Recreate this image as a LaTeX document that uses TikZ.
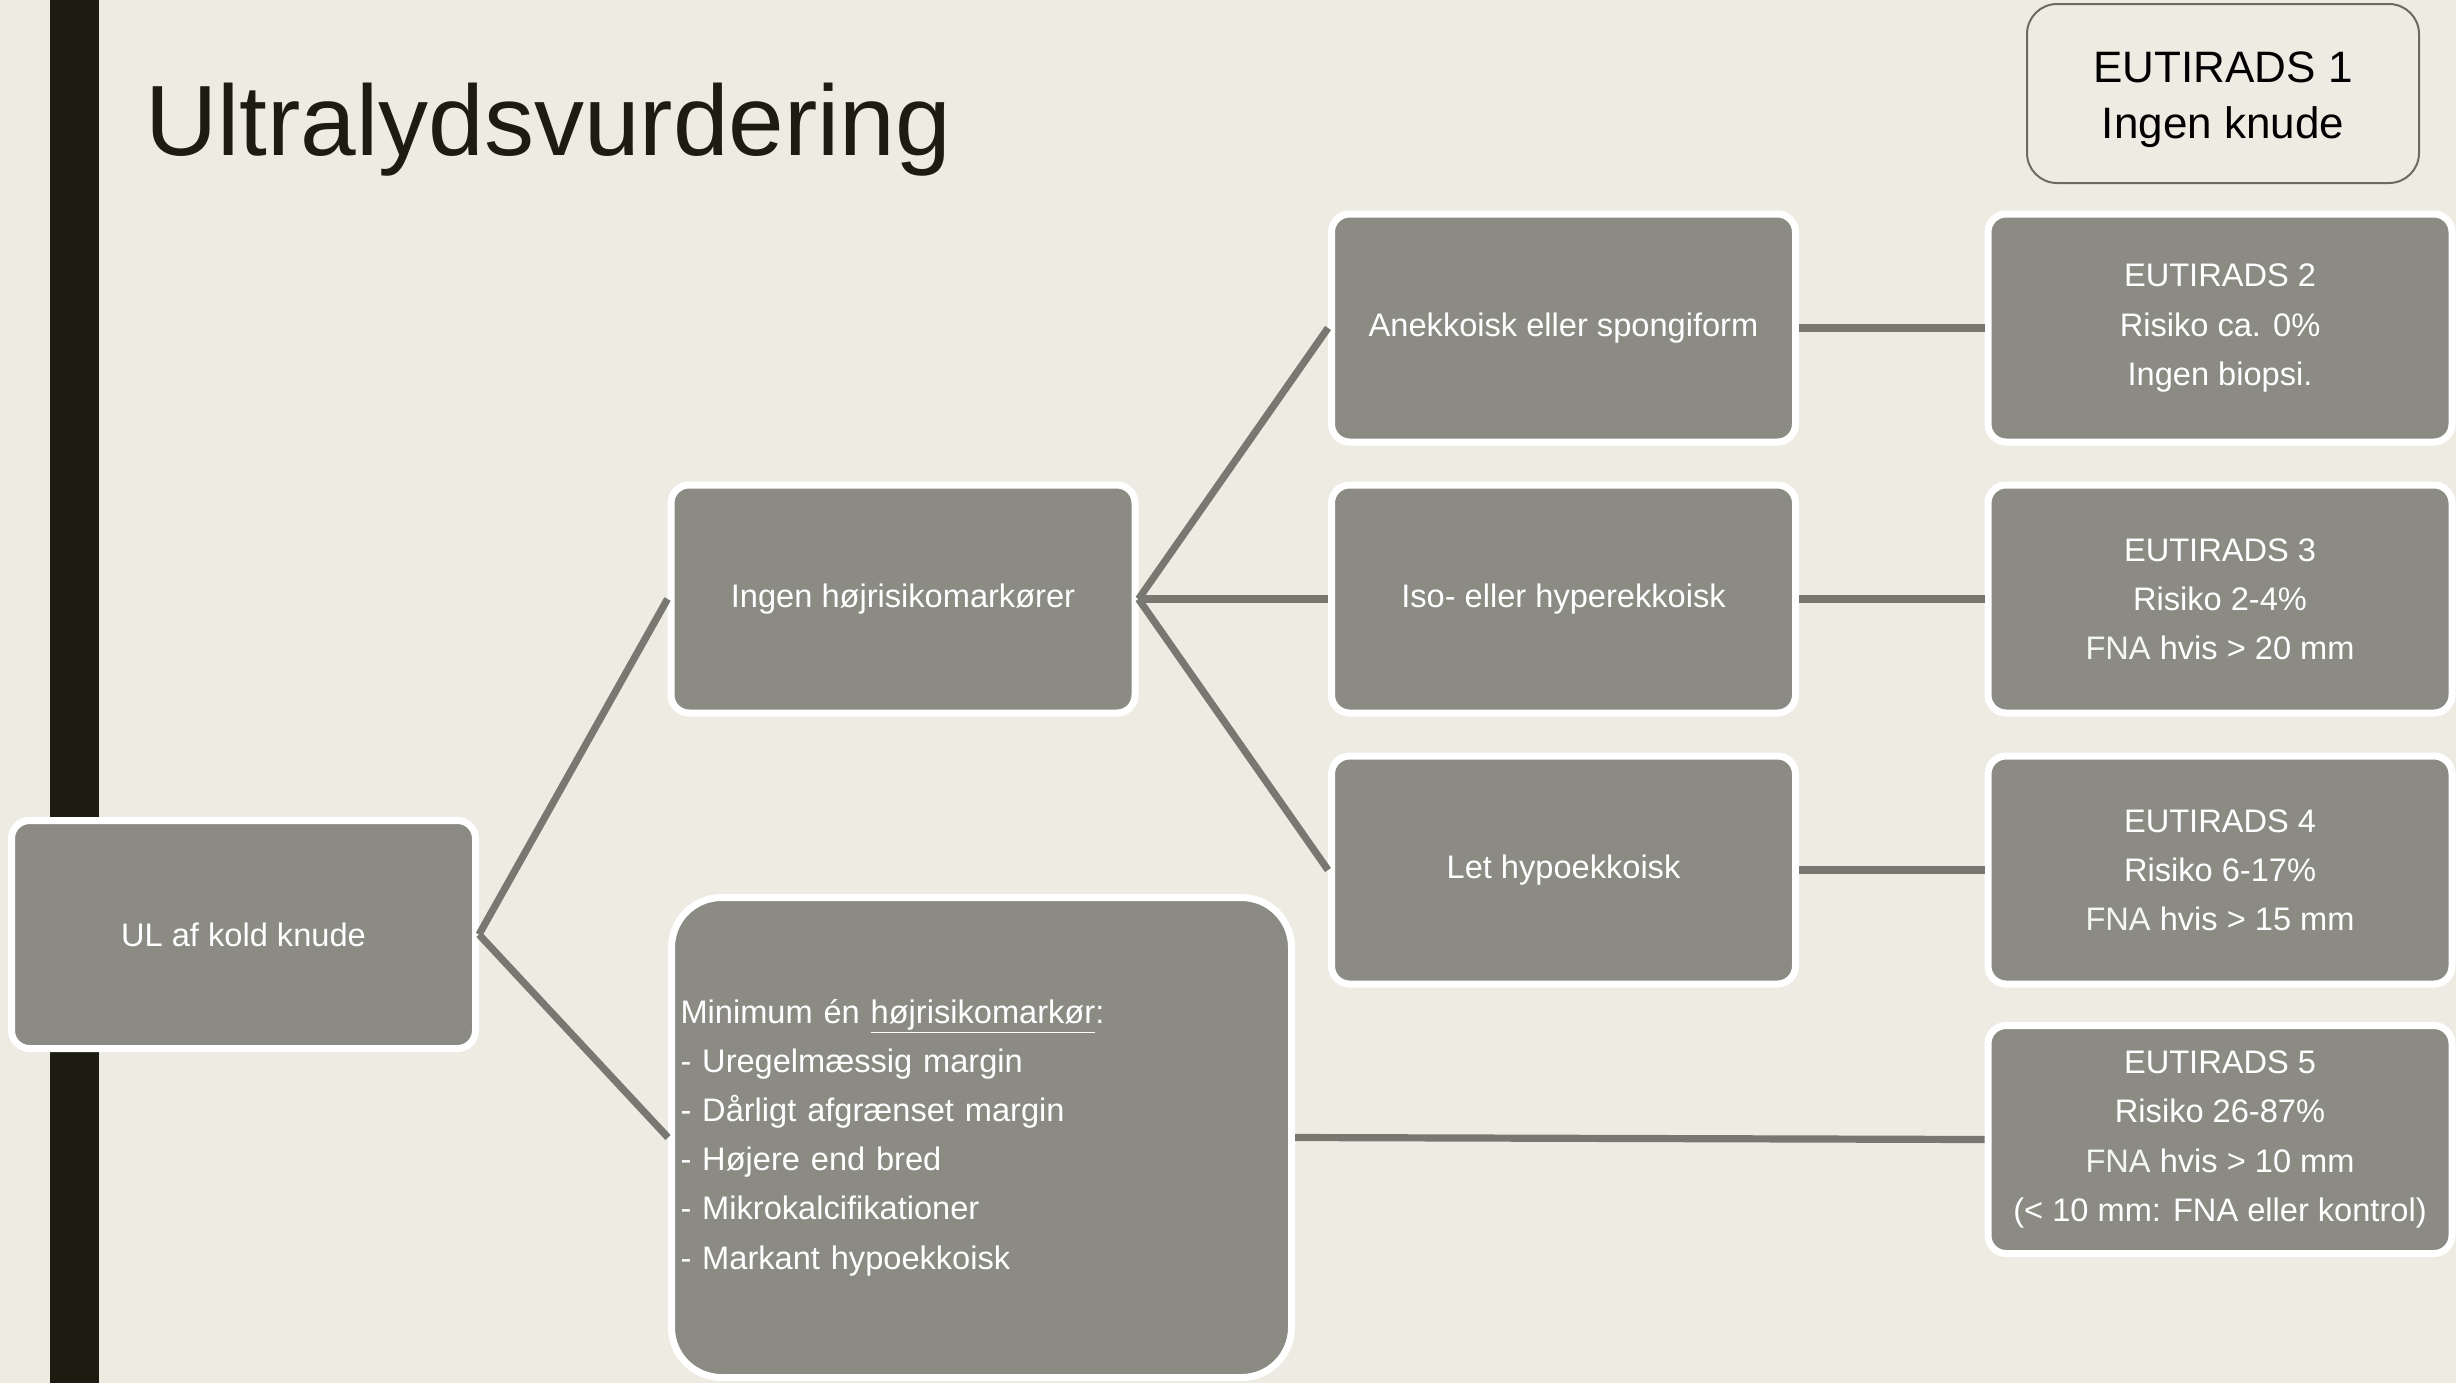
\documentclass[tikz,border=0pt]{standalone}
\usepackage{fontspec}
\setmainfont{Liberation Sans}
\definecolor{bgcol}{HTML}{EEEBE3}
\definecolor{boxgray}{HTML}{8B8B84}
\definecolor{linegray}{HTML}{787870}
\definecolor{barcol}{HTML}{1C1C10}
\definecolor{outlinegray}{HTML}{6B6B63}
\definecolor{fnacol}{HTML}{F2F7F2}
\newcommand{\fna}{\textcolor{fnacol}{FNA}}
\tikzset{
  gbox/.style={rectangle, rounded corners=9pt, fill=boxgray, draw=white, line width=3.5pt,
    text=white, font=\fontsize{16.3}{24.6}\selectfont, align=center,
    minimum width=232pt, minimum height=114pt, inner sep=0pt},
  conn/.style={draw=linegray, line width=3.6pt}
}
\begin{document}
\begin{tikzpicture}[x=0.5pt,y=-0.5pt]
\useasboundingbox (0,0) rectangle (2456,1383);
\fill[bgcol] (0,0) rectangle (2456,1383);
\fill[barcol] (50,0) rectangle (99,1383);
\node[anchor=base west, inner sep=0pt, text=barcol, font=\fontsize{50}{60}\selectfont] (title) at (145,155) {Ultralydsvurdering};

\node[gbox] (ul) at (243.5,934.5) {UL af kold knude};
\node[gbox] (ingen) at (903,599) {Ingen højrisikomarkører};
\node[gbox, rounded corners=25pt, minimum height=240pt, text width=301pt, inner xsep=4.5pt, align=left] (min) at (981.5,1137.5)
  {Minimum én \underline{højrisikomarkør}:\\
   - Uregelmæssig margin\\
   - Dårligt afgrænset margin\\
   - Højere end bred\\
   - Mikrokalcifikationer\\
   - Markant hypoekkoisk};

\node[gbox] (ane) at (1563.5,328) {Anekkoisk eller spongiform};
\node[gbox] (iso) at (1563.5,599) {Iso- eller hyperekkoisk};
\node[gbox] (let) at (1563.5,870) {Let hypoekkoisk};

\node[gbox] (e2) at (2220,328) {EUTIRADS 2\\Risiko ca. 0\%\\Ingen biopsi.};
\node[gbox] (e3) at (2220,599) {EUTIRADS 3\\Risiko 2-4\%\\\fna{} hvis > 20 mm};
\node[gbox] (e4) at (2220,870) {EUTIRADS 4\\Risiko 6-17\%\\\fna{} hvis > 15 mm};
\node[gbox] (e5) at (2220,1139.5) {EUTIRADS 5\\Risiko 26-87\%\\\fna{} hvis > 10 mm\\(< 10 mm: FNA eller kontrol)};

\node[rectangle, rounded corners=15pt, fill=bgcol, draw=outlinegray, line width=1pt,
  minimum width=196pt, minimum height=89.5pt, inner sep=0pt, align=center, text=black,
  font=\fontsize{22}{28}\selectfont] (e1) at (2223,93.5) {\rule{0pt}{21.75pt}EUTIRADS 1\\Ingen knude};

\draw[conn] (ul.east) -- (ingen.west);
\draw[conn] (ul.east) -- (min.west);
\draw[conn] (ingen.east) -- (ane.west);
\draw[conn] (ingen.east) -- (iso.west);
\draw[conn] (ingen.east) -- (let.west);
\draw[conn] (ane.east) -- (e2.west);
\draw[conn] (iso.east) -- (e3.west);
\draw[conn] (let.east) -- (e4.west);
\draw[conn] (min.east) -- (e5.west);
\end{tikzpicture}
\end{document}
